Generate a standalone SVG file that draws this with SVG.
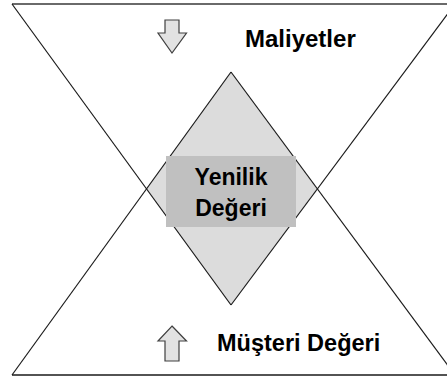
<svg xmlns="http://www.w3.org/2000/svg" width="447" height="378" viewBox="0 0 447 378">
<style>
.line{stroke:#1a1a1a;stroke-width:1.2;fill:none}
.arrow{fill:#e2e2e2;stroke:#404040;stroke-width:1.2}
.lbl{font-family:"Liberation Sans",Arial,sans-serif;font-weight:bold;font-size:23px;fill:#000}
</style>
<rect width="447" height="378" fill="#fff"/>
<g id="diamond">
<polygon points="231,72 146,189 231,305 317,189" fill="#dcdcdc"/>
</g>
<g id="connectors">
<line x1="12" y1="4" x2="447" y2="4" stroke="#6a6a6a" stroke-width="2"/>
<line class="line" x1="12" y1="4" x2="231" y2="305"/>
<line class="line" x1="455" y1="4" x2="231" y2="305"/>
<line class="line" x1="12" y1="375" x2="231" y2="72"/>
<line class="line" x1="455" y1="375" x2="231" y2="72"/>
<line x1="12" y1="375" x2="447" y2="375" stroke="#1a1a1a" stroke-width="1.5"/>
</g>
<g id="yenilik">
<rect x="166" y="156" width="130" height="71" fill="#c0c0c0"/>
<text class="lbl" x="231" y="185" text-anchor="middle">Yenilik</text>
<text class="lbl" x="231" y="216" text-anchor="middle">Değeri</text>
</g>
<g id="maliyetler">
<polygon class="arrow" points="165,20 179,20 179,33 186.5,33 172,53 158,33 165,33"/>
<text class="lbl" x="245" y="47" style="font-size:24px">Maliyetler</text>
</g>
<g id="musteri">
<polygon class="arrow" points="172,326 186.5,341 179,341 179,361 165,361 165,341 158,341"/>
<text class="lbl" x="217" y="351" style="font-size:23.5px">Müşteri Değeri</text>
</g>
</svg>
